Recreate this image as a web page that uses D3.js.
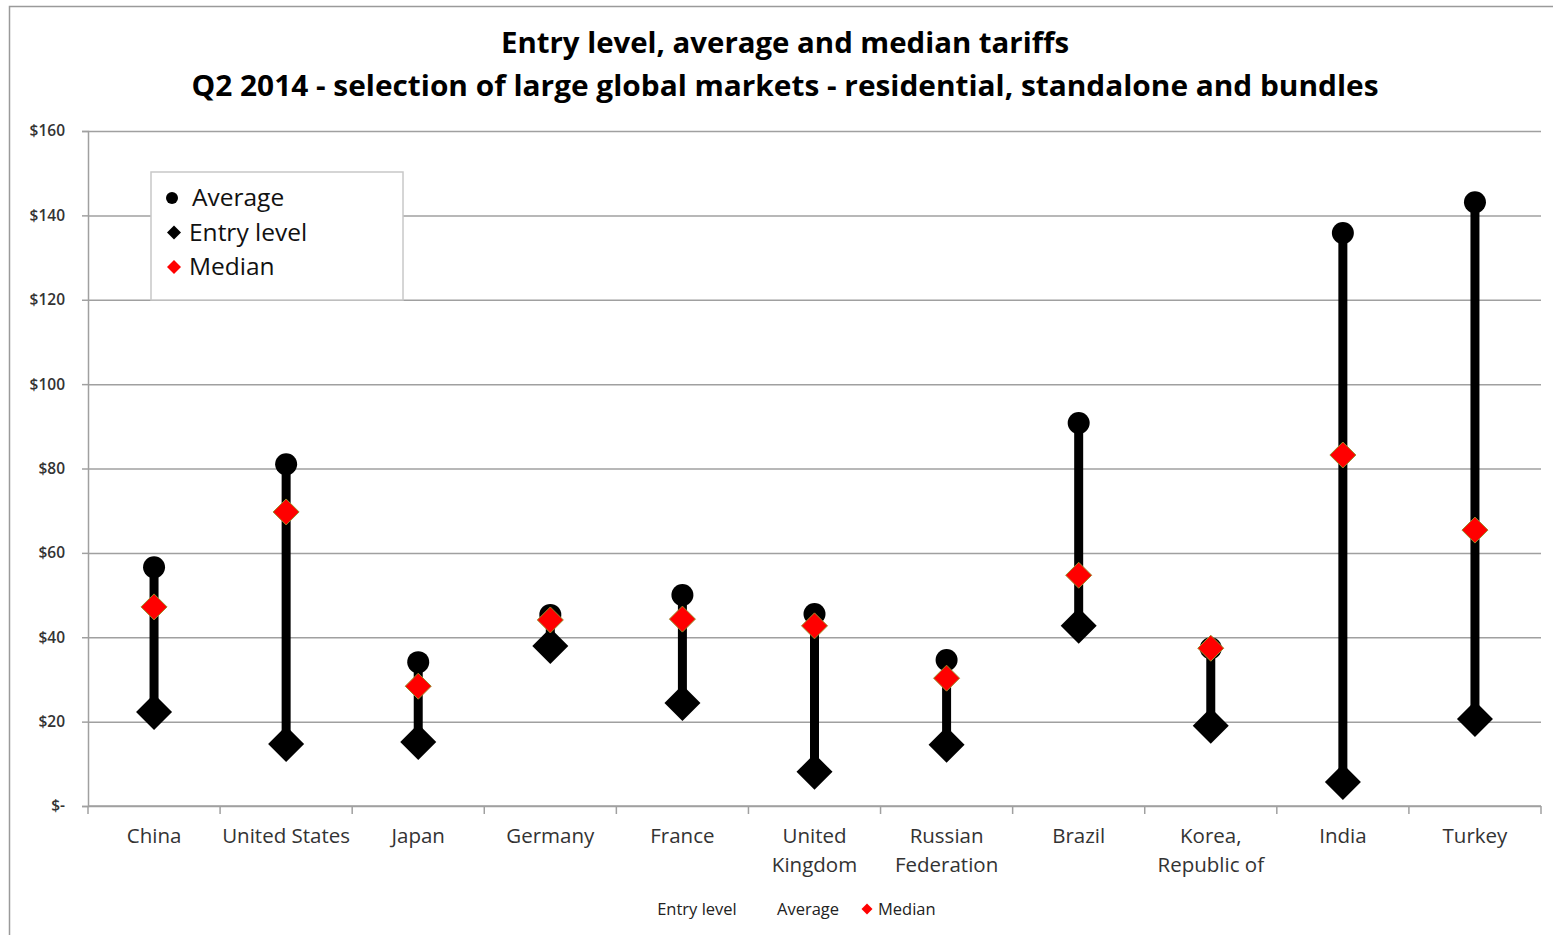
<!DOCTYPE html>
<html lang="en">
<head>
  <meta charset="UTF-8">
  <title>Entry level, average and median tariffs</title>
  <script src="https://d3js.org/d3.v7.min.js"></script>
  <style>
    body { margin: 0; background: #fff; font-family: "Open Sans", Arial, sans-serif; }
    .grid line { stroke: #a0a0a0; stroke-width: 1.5; }
    .grid path { display: none; }
    .axis path, .axis line { stroke: #a0a0a0; stroke-width: 1.5; }
  </style>
</head>
<body>
  <div id="chart"></div>
  <script>
    const countries = ["China", "United States", "Japan", "Germany", "France", "United Kingdom",
      "Russian Federation", "Brazil", "Korea, Republic of", "India", "Turkey"];
    const labelLines = [["China"], ["United States"], ["Japan"], ["Germany"], ["France"],
      ["United", "Kingdom"], ["Russian", "Federation"], ["Brazil"], ["Korea,", "Republic of"], ["India"], ["Turkey"]];
    const average = [56.6, 81.0, 34.1, 45.3, 50.0, 45.5, 34.6, 90.8, 37.4, 135.8, 143.1];
    const median  = [47.2, 69.7, 28.4, 44.1, 44.3, 42.7, 30.3, 54.7, 37.4, 83.2, 65.4];
    const entry   = [22.3, 14.7, 15.2, 37.9, 24.4, 8.1, 14.5, 42.7, 19.0, 5.7, 20.6];
    const yTicks = [0, 20, 40, 60, 80, 100, 120, 140, 160];

    const width = 1553, height = 935;
    const margin = { top: 131, right: 12, bottom: 129, left: 88 };

    const svg = d3.select("#chart").append("svg")
      .attr("width", width)
      .attr("height", height);

    // outer frame
    svg.append("path")
      .attr("d", `M9.5,${height} V6.5 H${width}`)
      .attr("fill", "none")
      .attr("stroke", "#9a9a9a")
      .attr("stroke-width", 1.5);

    const x = d3.scaleBand()
      .domain(countries)
      .range([margin.left, width - margin.right]);

    const y = d3.scaleLinear()
      .domain([0, 160])
      .range([height - margin.bottom, margin.top]);

    // gridlines
    svg.append("g")
      .attr("class", "grid")
      .attr("transform", `translate(${margin.left},0)`)
      .call(d3.axisLeft(y).tickValues(yTicks).tickSize(-(width - margin.left - margin.right)).tickFormat(""));

    // y axis
    const yAxis = svg.append("g")
      .attr("class", "axis")
      .attr("transform", `translate(${margin.left},0)`)
      .call(d3.axisLeft(y).tickValues(yTicks).tickSize(6).tickPadding(17)
        .tickFormat(d => d === 0 ? "$-" : "$" + d));
    yAxis.selectAll("text")
      .attr("font-family", "Open Sans, Arial, sans-serif")
      .attr("font-size", 15.5)
      .attr("font-weight", 600)
      .attr("fill", "#333");

    // x axis
    const xAxis = svg.append("g")
      .attr("class", "axis")
      .attr("transform", `translate(0,${height - margin.bottom})`)
      .call(d3.axisBottom(x).tickSize(0).tickFormat(""));
    xAxis.select("path").attr("d", `M${margin.left},0H${width - margin.right}`);

    // band boundary ticks
    const bounds = countries.map(c => x(c)).concat([x(countries[countries.length - 1]) + x.bandwidth()]);
    xAxis.selectAll(".btick")
      .data(bounds)
      .enter().append("line")
      .attr("x1", d => d).attr("x2", d => d)
      .attr("y1", 0).attr("y2", 8)
      .attr("stroke", "#a0a0a0").attr("stroke-width", 1.5);

    // category labels
    const labels = svg.append("g");
    countries.forEach((c, i) => {
      const t = labels.append("text")
        .attr("x", x(c) + x.bandwidth() / 2)
        .attr("y", height - margin.bottom + 37)
        .attr("text-anchor", "middle")
        .attr("font-size", 20.5)
        .attr("fill", "#333");
      labelLines[i].forEach((ln, j) => {
        t.append("tspan").attr("x", x(c) + x.bandwidth() / 2).attr("dy", j === 0 ? 0 : 29).text(ln);
      });
    });

    const cx = i => x(countries[i]) + x.bandwidth() / 2;

    // range lines (entry to average)
    svg.append("g").selectAll("line")
      .data(countries)
      .enter().append("line")
      .attr("x1", (d, i) => cx(i)).attr("x2", (d, i) => cx(i))
      .attr("y1", (d, i) => y(entry[i])).attr("y2", (d, i) => y(average[i]))
      .attr("stroke", "#000").attr("stroke-width", 9);

    // average points
    svg.append("g").selectAll("circle")
      .data(average)
      .enter().append("circle")
      .attr("cx", (d, i) => cx(i))
      .attr("cy", d => y(d))
      .attr("r", 11)
      .attr("fill", "#000");

    const diamond = s => `M0,${-s}L${s},0L0,${s}L${-s},0Z`;

    // entry level points
    svg.append("g").selectAll("path")
      .data(entry)
      .enter().append("path")
      .attr("transform", (d, i) => `translate(${cx(i)},${y(d)})`)
      .attr("d", diamond(18))
      .attr("fill", "#000");

    // median points
    svg.append("g").selectAll("path")
      .data(median)
      .enter().append("path")
      .attr("transform", (d, i) => `translate(${cx(i)},${y(d)})`)
      .attr("d", diamond(13))
      .attr("fill", "#ff0000")
      .attr("stroke", "#9a8a2a")
      .attr("stroke-width", 1);

    // title
    const title = svg.append("text")
      .attr("text-anchor", "middle")
      .attr("font-family", "Open Sans, Arial, sans-serif")
      .attr("font-weight", 700)
      .attr("font-size", 28)
      .attr("fill", "#000");
    title.append("tspan").attr("x", 785).attr("y", 53)
      .attr("textLength", 568).attr("lengthAdjust", "spacingAndGlyphs")
      .text("Entry level, average and median tariffs");
    title.append("tspan").attr("x", 785).attr("y", 96)
      .attr("textLength", 1187).attr("lengthAdjust", "spacingAndGlyphs")
      .text("Q2 2014 - selection of large global markets - residential, standalone and bundles");

    // legend box
    const legend = svg.append("g").attr("transform", "translate(151,172)");
    legend.append("rect")
      .attr("width", 252).attr("height", 128)
      .attr("fill", "#fff").attr("stroke", "#c8c8c8").attr("stroke-width", 1.5);
    const items = [
      { name: "Average", shape: "circle", color: "#000" },
      { name: "Entry level", shape: "diamond", color: "#000" },
      { name: "Median", shape: "diamond", color: "#ff0000" }
    ];
    items.forEach((it, i) => {
      const gy = 26 + i * 34.5;
      if (it.shape === "circle") {
        legend.append("circle").attr("cx", 21).attr("cy", gy).attr("r", 6).attr("fill", it.color);
      } else {
        legend.append("path").attr("transform", `translate(23,${gy})`).attr("d", diamond(7)).attr("fill", it.color);
      }
      legend.append("text")
        .attr("x", it.shape === "circle" ? 41 : 38)
        .attr("y", gy + 8)
        .attr("font-size", 24.5)
        .attr("fill", "#111")
        .text(it.name);
    });

    // bottom legend
    const bl = svg.append("g").attr("font-size", 16.5).attr("fill", "#222");
    bl.append("text").attr("x", 697).attr("y", 915).attr("text-anchor", "middle").text("Entry level");
    bl.append("text").attr("x", 808).attr("y", 915).attr("text-anchor", "middle").text("Average");
    bl.append("path").attr("transform", "translate(867,909)").attr("d", diamond(5.5)).attr("fill", "#ff0000");
    bl.append("text").attr("x", 878).attr("y", 915).text("Median");
  </script>
</body>
</html>
